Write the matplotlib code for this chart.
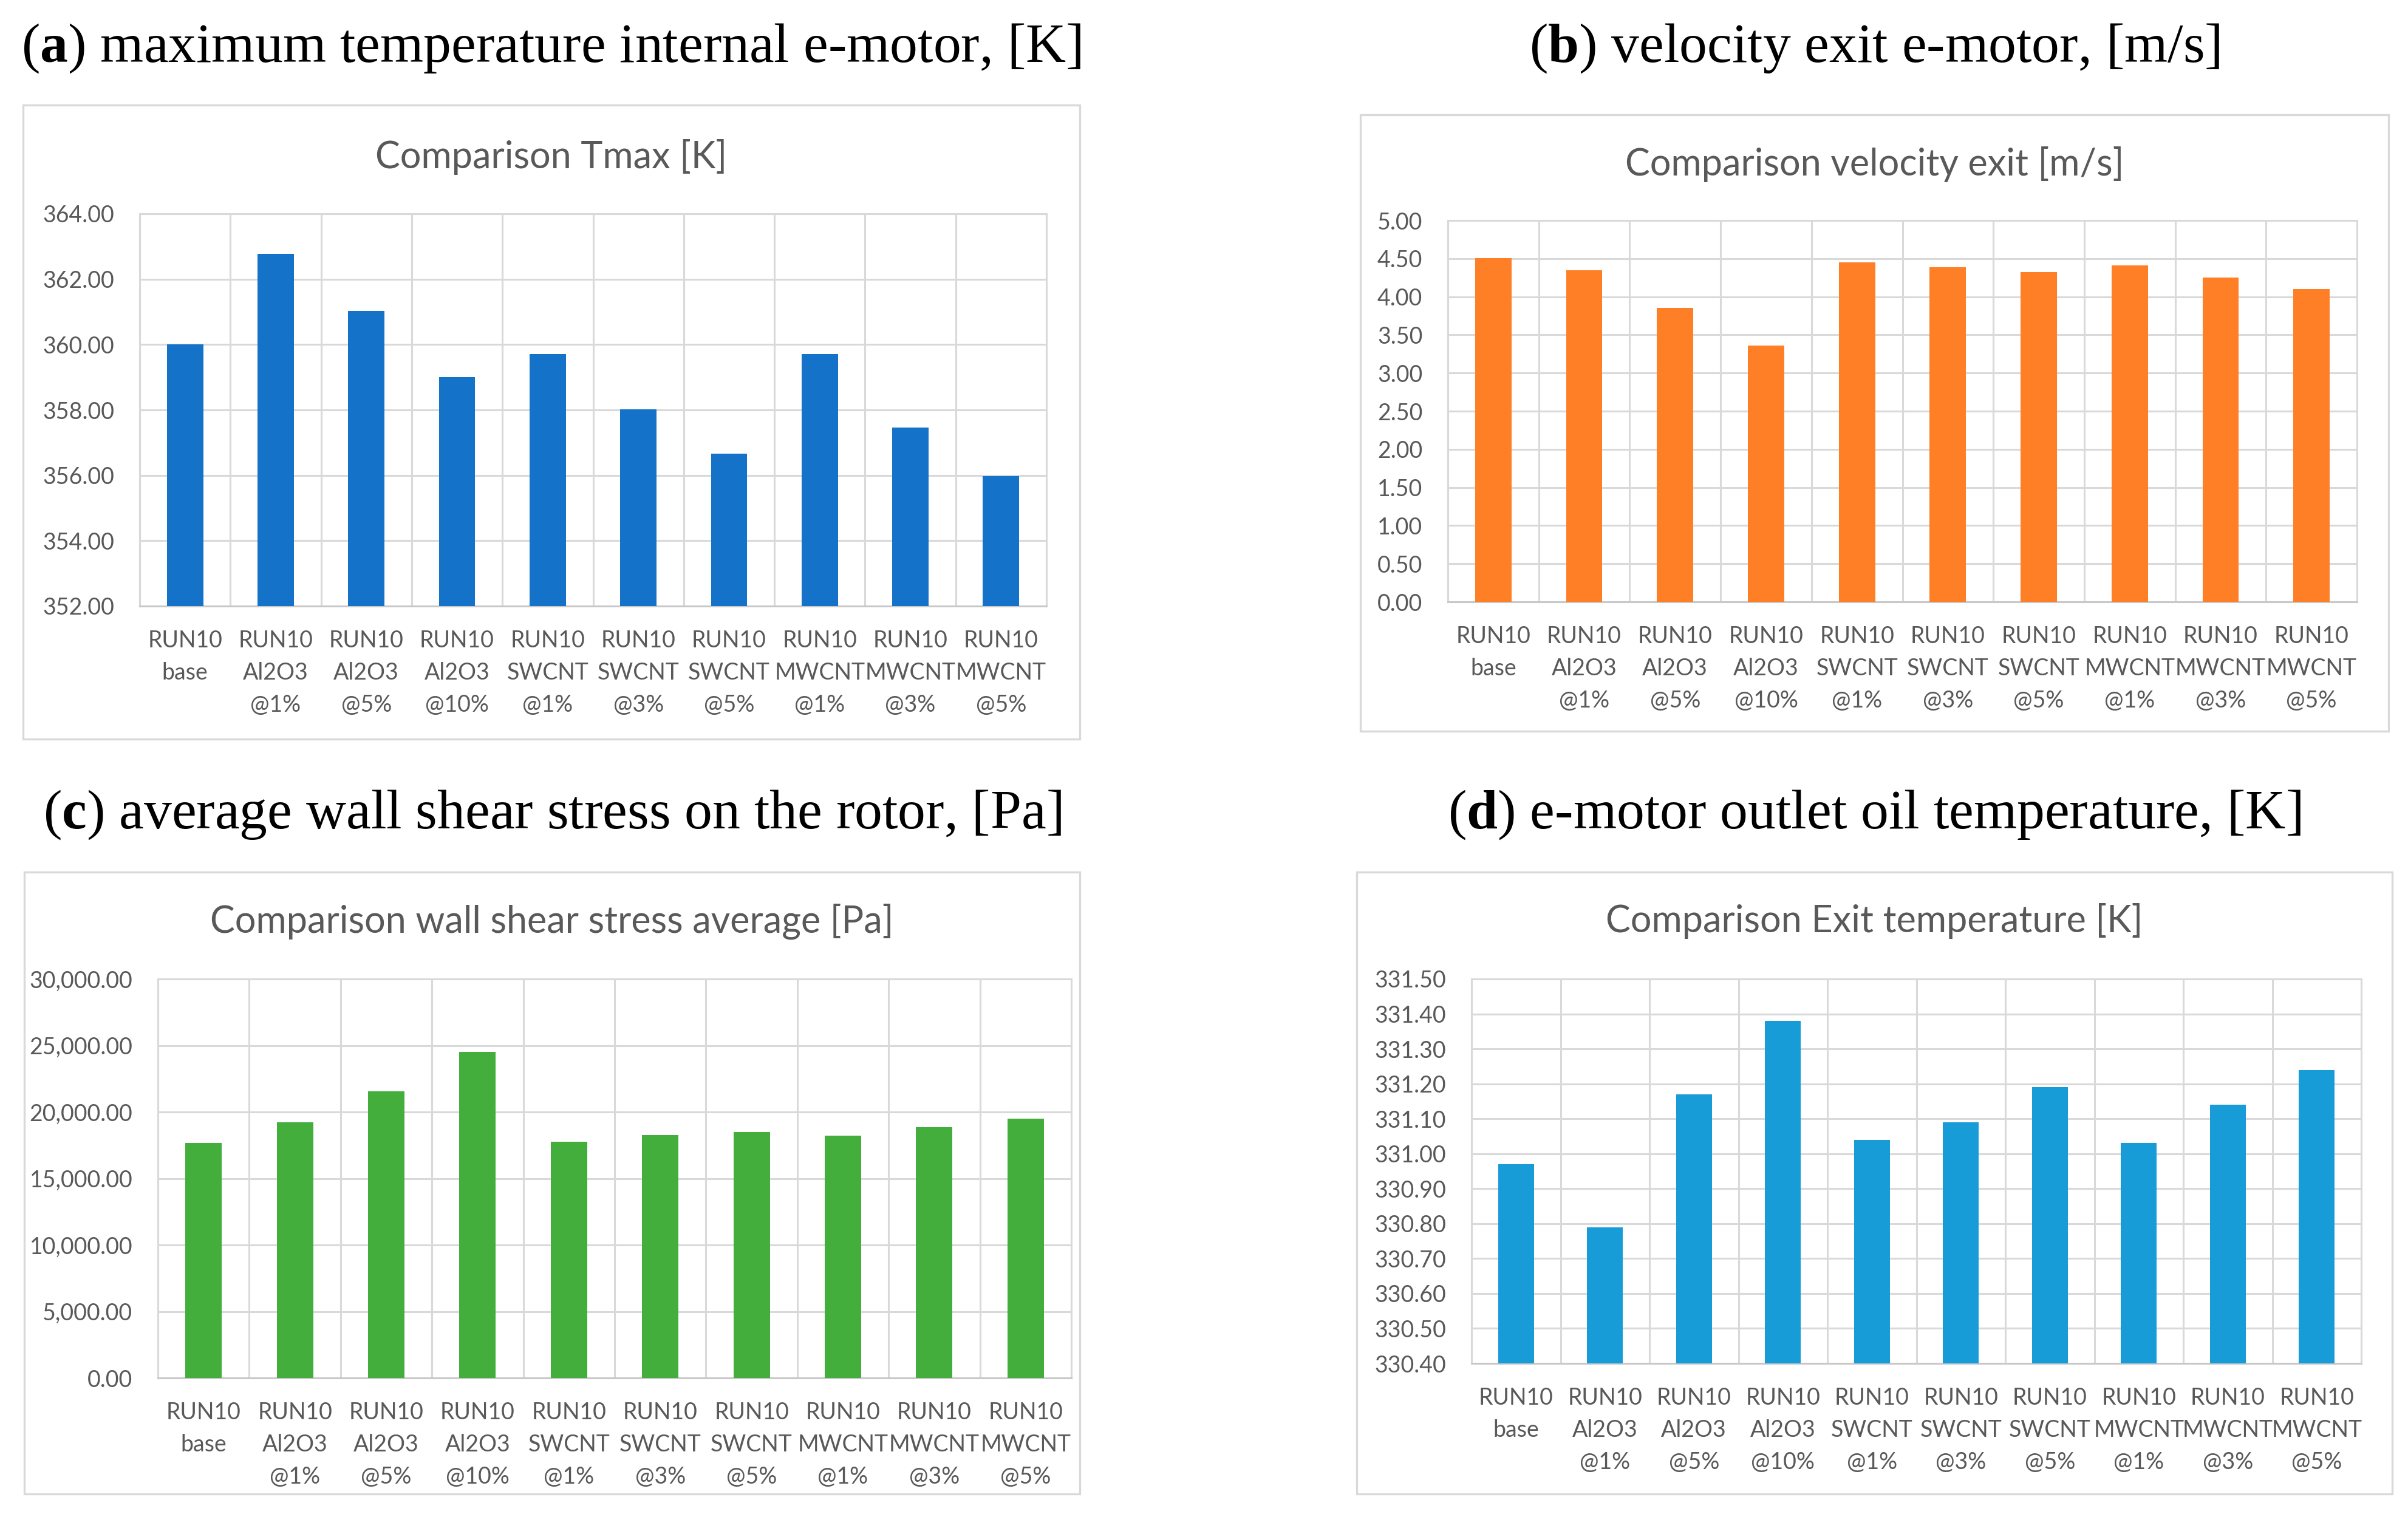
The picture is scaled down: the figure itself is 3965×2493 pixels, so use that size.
import matplotlib
matplotlib.use("Agg")
import matplotlib.pyplot as plt
from matplotlib.patches import Rectangle
from matplotlib.ticker import FuncFormatter, FixedLocator
import numpy as np

categories = ["RUN10\nbase", "RUN10\nAl2O3\n@1%", "RUN10\nAl2O3\n@5%", "RUN10\nAl2O3\n@10%",
              "RUN10\nSWCNT\n@1%", "RUN10\nSWCNT\n@3%", "RUN10\nSWCNT\n@5%",
              "RUN10\nMWCNT\n@1%", "RUN10\nMWCNT\n@3%", "RUN10\nMWCNT\n@5%"]

tmax = [360.00, 362.77, 361.02, 359.00, 359.70, 358.02, 356.67, 359.70, 357.46, 355.98]
velocity = [4.51, 4.35, 3.85, 3.36, 4.45, 4.39, 4.32, 4.41, 4.25, 4.10]
shear = [17650, 19230, 21540, 24500, 17750, 18250, 18500, 18220, 18860, 19480]
exit_temp = [330.97, 330.79, 331.17, 331.38, 331.04, 331.09, 331.19, 331.03, 331.14, 331.24]

W, H = 3965, 2493
DPI = 100
fig = plt.figure(figsize=(W / DPI, H / DPI), dpi=DPI)
fig.patch.set_facecolor("white")

plt.rcParams["mathtext.fontset"] = "custom"
plt.rcParams["mathtext.rm"] = "Liberation Serif"
plt.rcParams["mathtext.bf"] = "Liberation Serif:bold"

SANS = "Lato"
SERIF = "Liberation Serif"
TXT = "#595959"
GRID = "#D9D9D9"

panels = [
    dict(data=tmax, color="#1472C8", ylim=(352, 364), step=2, fmt="{:.2f}",
         plot=(230, 352, 1723, 998), box=(38, 173, 1778, 1217), title_y=258,
         title="Comparison Tmax [K]",
         head=r"($\mathbf{a}$) maximum temperature internal e-motor, [K]", head_y=80),
    dict(data=velocity, color="#FF7F27", ylim=(0, 5), step=0.5, fmt="{:.2f}",
         plot=(2384, 363, 3881, 991), box=(2240, 189, 3933, 1204), title_y=271,
         title="Comparison velocity exit [m/s]",
         head=r"($\mathbf{b}$) velocity exit e-motor, [m/s]", head_y=80),
    dict(data=shear, color="#43AE3C", ylim=(0, 30000), step=5000, fmt="{:,.2f}",
         plot=(260, 1612, 1764, 2269), box=(40, 1436, 1778, 2460), title_y=1517,
         title="Comparison wall shear stress average [Pa]",
         head=r"($\mathbf{c}$) average wall shear stress on the rotor, [Pa]", head_y=1342),
    dict(data=exit_temp, color="#189CD8", ylim=(330.4, 331.5), step=0.1, fmt="{:.2f}",
         plot=(2423, 1612, 3888, 2245), box=(2234, 1436, 3939, 2460), title_y=1517,
         title="Comparison Exit temperature [K]",
         head=r"($\mathbf{d}$) e-motor outlet oil temperature, [K]", head_y=1342),
]

for p in panels:
    x0, y0, x1, y1 = p["plot"]
    ax = fig.add_axes([x0 / W, 1 - y1 / H, (x1 - x0) / W, (y1 - y0) / H])
    x = np.arange(len(categories))
    lo, hi = p["ylim"]
    ax.bar(x, np.array(p["data"]) - lo, bottom=lo, width=0.4, color=p["color"], zorder=3)
    ax.set_xlim(-0.5, len(categories) - 0.5)
    ax.set_ylim(lo, hi)
    ticks = np.round(np.arange(lo, hi + p["step"] / 2, p["step"]), 6)
    ax.yaxis.set_major_locator(FixedLocator(ticks))
    fmt = p["fmt"]
    ax.yaxis.set_major_formatter(FuncFormatter(lambda v, pos, f=fmt: f.format(v)))
    ax.set_xticks(x)
    ax.set_xticklabels(categories, fontfamily=SANS, fontsize=27, color=TXT, linespacing=1.58)
    ax.xaxis.set_minor_locator(FixedLocator(np.arange(-0.5, len(categories), 1)))
    for lab in ax.get_yticklabels():
        lab.set_fontfamily(SANS)
        lab.set_fontsize(27)
        lab.set_color(TXT)
    ax.tick_params(axis="both", which="both", length=0)
    ax.tick_params(axis="x", pad=28)
    ax.tick_params(axis="y", pad=30)
    ax.grid(axis="y", which="major", color=GRID, lw=2.2, zorder=0)
    ax.grid(axis="x", which="minor", color=GRID, lw=2.2, zorder=0)
    ax.grid(axis="x", which="major", visible=False)
    ax.set_axisbelow(True)
    for s in ax.spines.values():
        s.set_color(GRID)
        s.set_linewidth(2.2)
    ax.spines["bottom"].set_color("#C8C8C8")

    bx0, by0, bx1, by1 = p["box"]
    fig.add_artist(Rectangle((bx0 / W, 1 - by1 / H), (bx1 - bx0) / W, (by1 - by0) / H,
                             transform=fig.transFigure, fill=False, edgecolor=GRID, lw=2.4))
    cx = (bx0 + bx1) / 2 / W
    fig.text(cx, 1 - p["title_y"] / H, p["title"], ha="center", va="center",
             fontfamily=SANS, fontsize=44, color=TXT)
    fig.text(cx, 1 - p["head_y"] / H, p["head"], ha="center", va="center",
             fontfamily=SERIF, fontsize=66, color="black")

fig.savefig("out.png", dpi=DPI, facecolor="white")
